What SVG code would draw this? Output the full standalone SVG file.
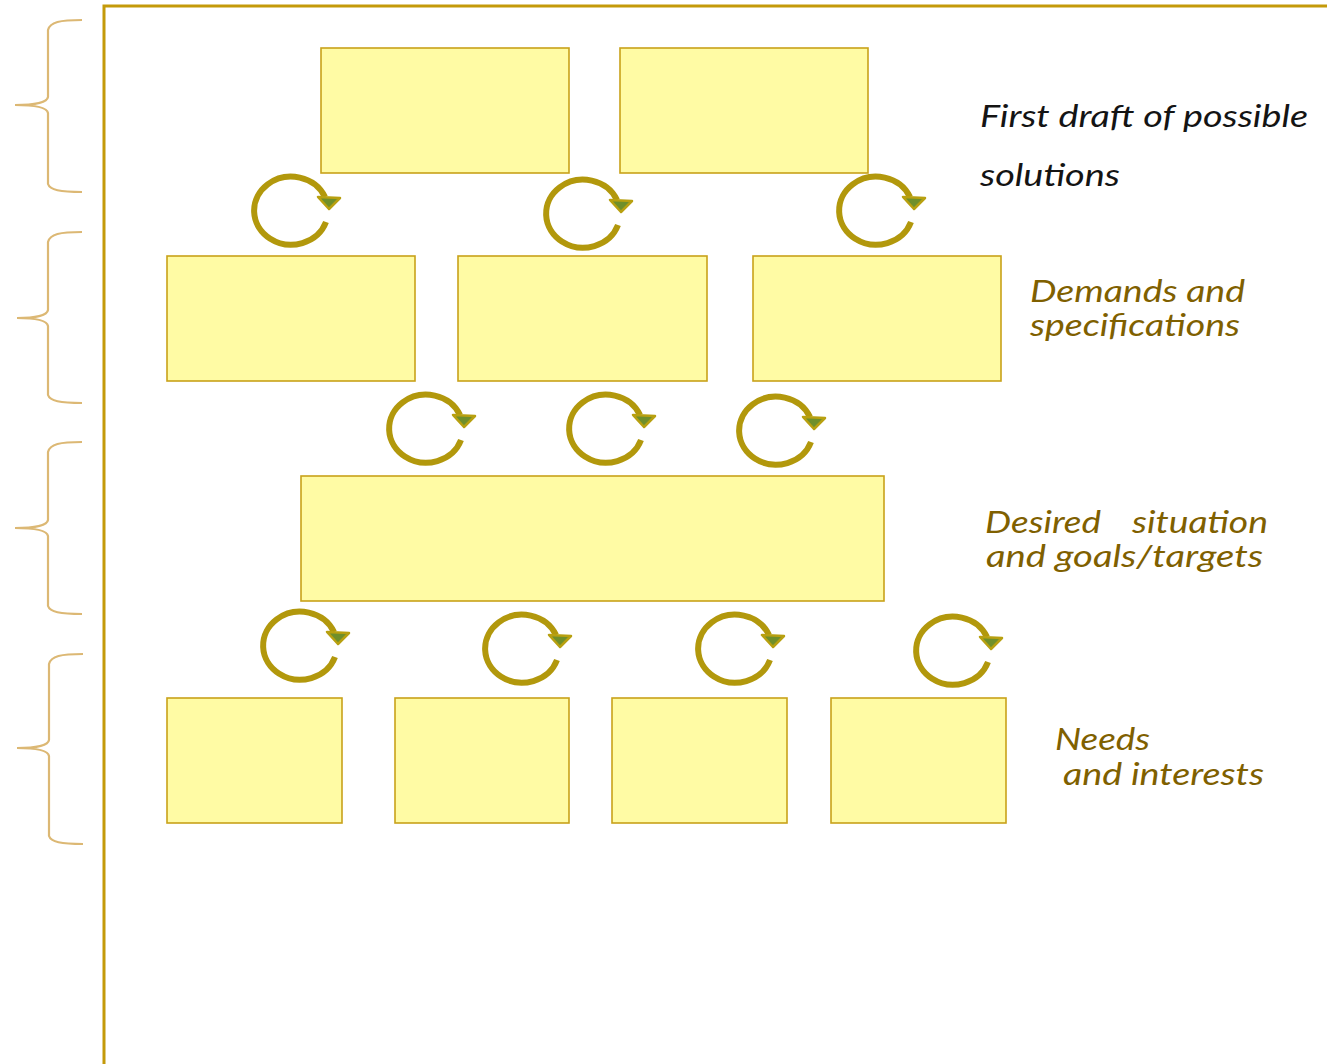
<svg xmlns="http://www.w3.org/2000/svg" xmlns:xlink="http://www.w3.org/1999/xlink" width="1327" height="1064" viewBox="0 0 1327 1064">
<style>
.box{fill:#fffba4;stroke:#c9a21a;stroke-width:1.6}
.brace{fill:none;stroke:#dcb874;stroke-width:2.2}
.lbl{font-family:Lato,"Open Sans","Liberation Sans",sans-serif;font-style:italic;font-size:30px;fill:#7f6000}
.lbl1{fill:#141414}
</style>
<defs>
<g id="cyc">
<path d="M 33,10 A 37 34 0 1 1 32,-15" fill="none" stroke="#b2980c" stroke-width="6"/>
<polygon points="25,-15 47,-14 36,-3" fill="#6f8f2a" stroke="#b8a010" stroke-width="2.5" stroke-linejoin="round"/>
</g>
</defs>
<rect width="1327" height="1064" fill="#ffffff"/>
<path d="M 104,1064 L 104,6 L 1327,6" fill="none" stroke="#c49a0a" stroke-width="3"/>
<g id="braces">
<path class="brace" d="M 82,20 C 60,20 50,22 48,30 L 48,97 C 47,103 35,105 15,105 C 35,105 47,107 48,113 L 48,184 C 50,190 60,192 82,192"/>
<path class="brace" d="M 82,232 C 60,232 50,234 48,242 L 48,310 C 47,316 35,318 17,318 C 35,318 47,320 48,326 L 48,395 C 50,401 60,403 82,403"/>
<path class="brace" d="M 82,442 C 60,442 50,444 48,452 L 48,520 C 47,526 35,528 15,528 C 35,528 47,530 48,536 L 48,606 C 50,612 60,614 82,614"/>
<path class="brace" d="M 83,654 C 61,654 51,656 49,664 L 49,740 C 48,746 36,748 17,748 C 36,748 48,750 49,756 L 49,836 C 51,842 61,844 83,844"/>
</g>
<g id="row1">
<rect id="n1" class="box" x="321" y="48" width="248" height="125"/>
<rect id="n2" class="box" x="620" y="48" width="248" height="125"/>
</g>
<g id="row2">
<rect id="n3" class="box" x="167" y="256" width="248" height="125"/>
<rect id="n4" class="box" x="458" y="256" width="249" height="125"/>
<rect id="n5" class="box" x="753" y="256" width="248" height="125"/>
</g>
<g id="row3">
<rect id="n6" class="box" x="301" y="476" width="583" height="125"/>
</g>
<g id="row4">
<rect id="n7" class="box" x="167" y="698" width="175" height="125"/>
<rect id="n8" class="box" x="395" y="698" width="174" height="125"/>
<rect id="n9" class="box" x="612" y="698" width="175" height="125"/>
<rect id="n10" class="box" x="831" y="698" width="175" height="125"/>
</g>
<g id="connectors">
<use xlink:href="#cyc" href="#cyc" transform="translate(293,212)"/>
<use xlink:href="#cyc" href="#cyc" transform="translate(585,215)"/>
<use xlink:href="#cyc" href="#cyc" transform="translate(878,212)"/>
<use xlink:href="#cyc" href="#cyc" transform="translate(428,430)"/>
<use xlink:href="#cyc" href="#cyc" transform="translate(608,430)"/>
<use xlink:href="#cyc" href="#cyc" transform="translate(778,432)"/>
<use xlink:href="#cyc" href="#cyc" transform="translate(302,647)"/>
<use xlink:href="#cyc" href="#cyc" transform="translate(524,650)"/>
<use xlink:href="#cyc" href="#cyc" transform="translate(737,650)"/>
<use xlink:href="#cyc" href="#cyc" transform="translate(955,652)"/>
</g>
<g id="labels">
<text class="lbl lbl1" x="980" y="127" textLength="328" lengthAdjust="spacingAndGlyphs">First draft of possible</text>
<text class="lbl lbl1" x="980" y="186" textLength="140" lengthAdjust="spacingAndGlyphs">solutions</text>
<text class="lbl" x="1030" y="302" textLength="215" lengthAdjust="spacingAndGlyphs">Demands and</text>
<text class="lbl" x="1030" y="336" textLength="210" lengthAdjust="spacingAndGlyphs">specifications</text>
<text class="lbl" x="985" y="533" textLength="116" lengthAdjust="spacingAndGlyphs">Desired</text>
<text class="lbl" x="1132" y="533" textLength="136" lengthAdjust="spacingAndGlyphs">situation</text>
<text class="lbl" x="986" y="567" textLength="277" lengthAdjust="spacingAndGlyphs">and goals/targets</text>
<text class="lbl" x="1055" y="750" textLength="95" lengthAdjust="spacingAndGlyphs">Needs</text>
<text class="lbl" x="1063" y="785" textLength="201" lengthAdjust="spacingAndGlyphs">and interests</text>
</g>
</svg>
